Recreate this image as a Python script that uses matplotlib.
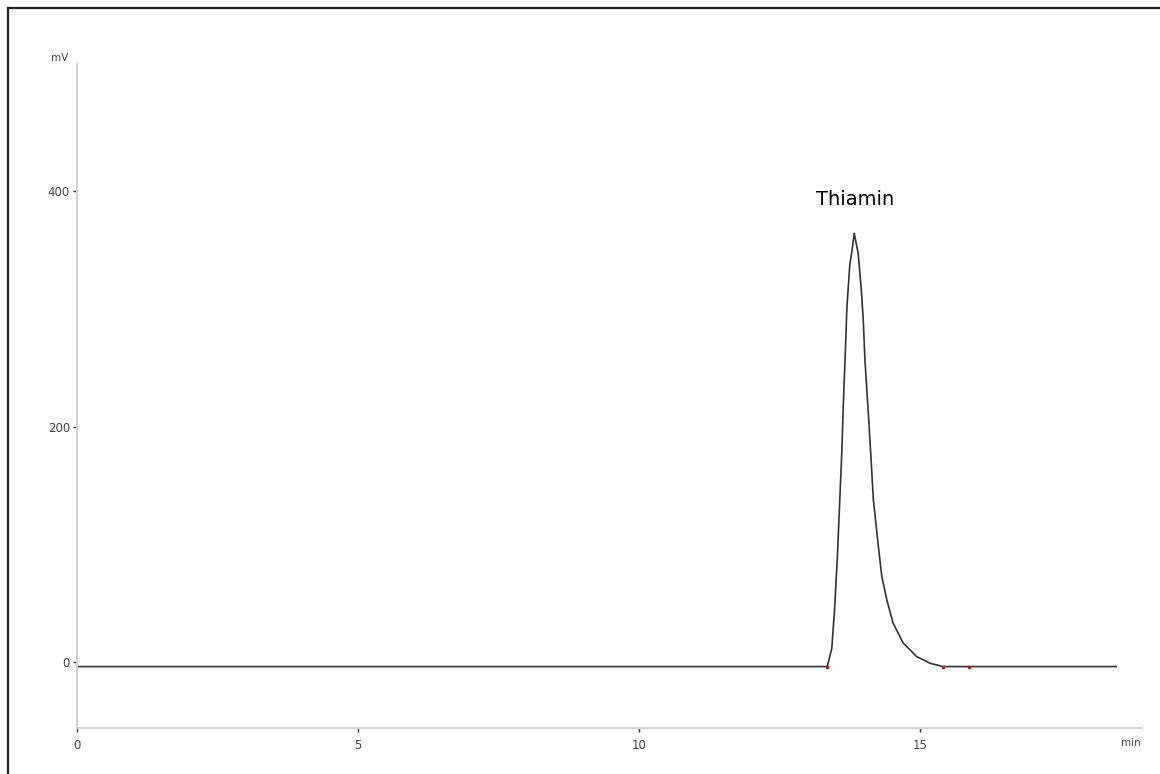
import matplotlib
matplotlib.use("Agg")
import matplotlib.pyplot as plt
from matplotlib.lines import Line2D

# Chromatogram trace (time in min, signal in mV)
time_min = [0.0, 13.35, 13.43, 13.48, 13.53, 13.57, 13.61, 13.64, 13.67, 13.70,
            13.75, 13.80, 13.83, 13.90, 13.96, 13.99, 14.02, 14.08, 14.12, 14.17,
            14.26, 14.32, 14.41, 14.52, 14.70, 14.94, 15.18, 15.41, 15.88, 18.49]
signal_mv = [-3.5, -3.5, 12, 45, 90, 135, 180, 225, 262, 302,
             337, 352.7, 364, 347, 313, 290.5, 256.6, 211.6, 180, 138,
             98, 73, 53, 33.5, 16.5, 5, -0.7, -3.5, -3.5, -3.5]

# Integration markers (peak start / end)
marker_t = [13.35, 15.41, 15.88]
marker_v = [-3.5, -3.5, -3.5]

peak_label = "Thiamin"
peak_label_t = 13.84
peak_label_v = 385

x_ticks = [0, 5, 10, 15]
y_ticks = [0, 200, 400]

W, H = 1160, 774
fig = plt.figure(figsize=(W / 100, H / 100), dpi=100)
fig.patch.set_facecolor("white")

# outer frame (left and top edges)
fig.add_artist(Line2D([8 / W, 8 / W], [0, 1 - 8 / H], color="#222222", lw=1.6,
                      transform=fig.transFigure))
fig.add_artist(Line2D([8 / W, 1], [1 - 8 / H, 1 - 8 / H], color="#222222", lw=1.6,
                      transform=fig.transFigure))

left, right = 77 / W, 1142 / W
bottom, top = (H - 728) / H, (H - 64) / H
ax = fig.add_axes([left, bottom, right - left, top - bottom])

ax.plot(time_min, signal_mv, color="#333333", lw=1.2, solid_joinstyle="round")
ax.plot(marker_t, marker_v, linestyle="none", marker="s", ms=1.5, color="#b02020")

ax.set_xlim(0, 18.95)
ax.set_ylim(-55.6, 507.6)

for s in ["top", "right"]:
    ax.spines[s].set_visible(False)
for s in ["left", "bottom"]:
    ax.spines[s].set_color("#d4d4d4")
    ax.spines[s].set_linewidth(1.5)

ax.set_xticks(x_ticks)
ax.set_yticks(y_ticks)
ax.tick_params(axis="both", direction="out", length=3, width=1, color="#333333",
               labelsize=8.5, labelcolor="#444444", pad=2)
ax.tick_params(axis="x", pad=5)

ax.text(peak_label_t, peak_label_v, peak_label, ha="center", va="bottom",
        fontsize=14, color="black")

fig.text(60 / W, 1 - 58 / H, "mV", fontsize=7.5, color="#444444", ha="center", va="center")
fig.text(1131 / W, 1 - 743 / H, "min", fontsize=7.5, color="#444444", ha="center", va="center")

fig.savefig("out.png", dpi=100, facecolor="white")
